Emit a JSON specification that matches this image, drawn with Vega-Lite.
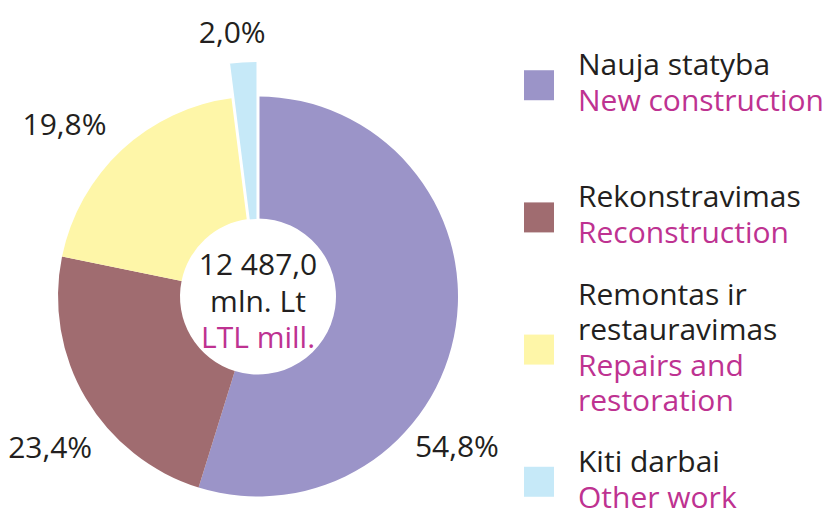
{
  "$schema": "https://vega.github.io/schema/vega-lite/v6.json",
  "padding": 0,
  "spacing": 0,
  "background": "white",
  "config": {"view": {"stroke": null}, "font": "Open Sans"},
  "datasets": {
    "slices": [
      {"cat": "Nauja statyba", "ltTop": "", "lt": "Nauja statyba", "en": "New construction", "share": 54.8, "label": "54,8%"},
      {"cat": "Rekonstravimas", "ltTop": "", "lt": "Rekonstravimas", "en": "Reconstruction", "share": 23.4, "label": "23,4%"},
      {"cat": "Remontas ir restauravimas", "ltTop": "Remontas ir", "lt": "restauravimas", "en": "Repairs and\nrestoration", "share": 19.8, "label": "19,8%"},
      {"cat": "Kiti darbai", "ltTop": "", "lt": "Kiti darbai", "en": "Other work", "share": 2.0, "label": "2,0%"}
    ],
    "total": [
      {"total": "12 487,0", "unit": "mln. Lt", "unitEn": "LTL mill."}
    ]
  },
  "hconcat": [
    {
      "width": 516,
      "height": 511,
      "layer": [
        {
          "data": {"name": "slices"},
          "mark": {"type": "arc", "outerRadius": 200, "innerRadius": 78, "yOffset": 41},
          "encoding": {
            "theta": {"field": "share", "type": "quantitative", "stack": true},
            "order": {"field": "share", "sort": "descending"},
            "color": {"field": "cat", "type": "nominal", "legend": null,
              "scale": {"domain": ["Nauja statyba", "Rekonstravimas", "Remontas ir restauravimas", "Kiti darbai"],
                        "range": ["#9b94c8", "#a06c70", "#fef6a8", "#c6e9f8"]}},
            "opacity": {"condition": {"test": "datum.share < 5", "value": 0}, "value": 1}
          }
        },
        {
          "data": {"name": "slices"},
          "mark": {"type": "arc", "outerRadius": 236, "innerRadius": 76, "yOffset": 41, "stroke": "white", "strokeWidth": 3},
          "encoding": {
            "theta": {"field": "share", "type": "quantitative", "stack": true},
            "order": {"field": "share", "sort": "descending"},
            "color": {"field": "cat", "type": "nominal", "legend": null},
            "opacity": {"condition": {"test": "datum.share < 5", "value": 1}, "value": 0}
          }
        },
        {
          "data": {"name": "slices"},
          "mark": {"type": "text", "radius": 250, "thetaOffset": 0.5, "yOffset": 41, "fontSize": 30, "color": "#231f20", "baseline": "middle", "align": "center"},
          "encoding": {
            "theta": {"field": "share", "type": "quantitative", "stack": true},
            "order": {"field": "share", "sort": "descending"},
            "text": {"condition": {"test": "datum.share < 50", "value": ""}, "field": "label"}
          }
        },
        {
          "data": {"name": "slices"},
          "mark": {"type": "text", "radius": 258, "thetaOffset": -0.1, "yOffset": 41, "fontSize": 30, "color": "#231f20", "baseline": "middle", "align": "center"},
          "encoding": {
            "theta": {"field": "share", "type": "quantitative", "stack": true},
            "order": {"field": "share", "sort": "descending"},
            "text": {"condition": {"test": "datum.share > 50 || datum.share < 5", "value": ""}, "field": "label"}
          }
        },
        {
          "data": {"name": "slices"},
          "mark": {"type": "text", "radius": 264, "thetaOffset": -0.035, "yOffset": 41, "fontSize": 30, "color": "#231f20", "baseline": "middle", "align": "center"},
          "encoding": {
            "theta": {"field": "share", "type": "quantitative", "stack": true},
            "order": {"field": "share", "sort": "descending"},
            "text": {"condition": {"test": "datum.share > 5", "value": ""}, "field": "label"}
          }
        },
        {
          "data": {"name": "total"},
          "mark": {"type": "text", "yOffset": 41, "dy": -22, "fontSize": 30, "color": "#231f20", "align": "center", "baseline": "alphabetic"},
          "encoding": {"text": {"field": "total"}}
        },
        {
          "data": {"name": "total"},
          "mark": {"type": "text", "yOffset": 41, "dy": 15, "fontSize": 30, "color": "#231f20", "align": "center", "baseline": "alphabetic"},
          "encoding": {"text": {"field": "unit"}}
        },
        {
          "data": {"name": "total"},
          "mark": {"type": "text", "yOffset": 41, "dy": 51, "fontSize": 30, "color": "#be3291", "align": "center", "baseline": "alphabetic"},
          "encoding": {"text": {"field": "unitEn"}}
        }
      ]
    },
    {
      "width": 316,
      "height": 511,
      "data": {"name": "slices"},
      "encoding": {
        "y": {"field": "cat", "type": "nominal", "axis": null,
              "sort": {"field": "share", "order": "descending"},
              "scale": {"type": "point", "padding": 0.433}}
      },
      "layer": [
        {
          "mark": {"type": "point", "shape": "square", "size": 900, "filled": true, "opacity": 1, "yOffset": 28},
          "encoding": {
            "x": {"value": 18},
            "color": {"field": "cat", "type": "nominal", "legend": null}
          }
        },
        {
          "transform": [{"filter": "datum.ltTop != ''"}],
          "mark": {"type": "text", "align": "left", "baseline": "alphabetic", "fontSize": 30, "color": "#231f20", "dy": -45, "yOffset": 28},
          "encoding": {"x": {"value": 57}, "text": {"field": "ltTop"}}
        },
        {
          "mark": {"type": "text", "align": "left", "baseline": "alphabetic", "fontSize": 30, "color": "#231f20", "dy": -10, "yOffset": 28},
          "encoding": {"x": {"value": 57}, "text": {"field": "lt"}}
        },
        {
          "mark": {"type": "text", "align": "left", "baseline": "top", "lineBreak": "\n", "lineHeight": 35, "fontSize": 30, "color": "#be3291", "dy": 2, "yOffset": 28},
          "encoding": {"x": {"value": 57}, "text": {"field": "en"}}
        }
      ]
    }
  ]
}
